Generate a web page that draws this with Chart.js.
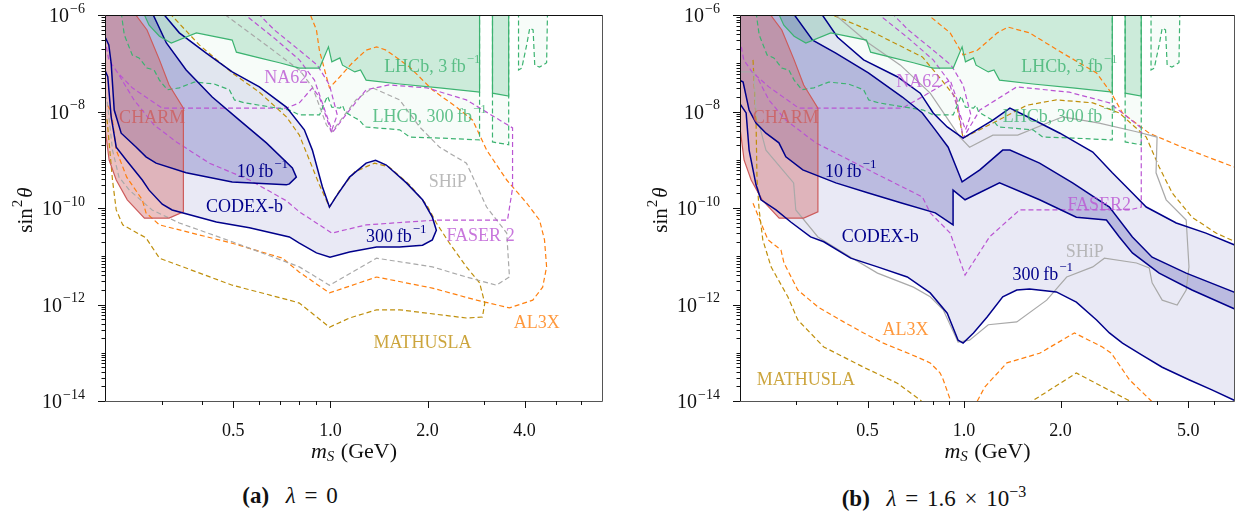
<!DOCTYPE html>
<html>
<head>
<meta charset="utf-8">
<script src="https://cdn.jsdelivr.net/npm/chart.js@4.4.1/dist/chart.umd.min.js"></script>
<style>
  html, body { margin: 0; padding: 0; background: #fff; }
  #page { position: relative; width: 1236px; height: 523px; overflow: hidden; background: #fff; }
  canvas { position: absolute; top: 0; }
  #cvA { left: 0; }
  #cvB { left: 618px; }
  .cap { position: absolute; top: 483px; font-family: "Liberation Serif", "DejaVu Serif", serif; font-size: 23px; color: #111;
         white-space: nowrap; transform: translateX(-50%); word-spacing: 3px; }
  .cap b { margin-right: 8px; }
  .cap sup { font-size: 16px; }
</style>
</head>
<body>
<div id="page">
  <canvas id="cvA" width="618" height="470"></canvas>
  <canvas id="cvB" width="618" height="470"></canvas>
  <div class="cap" style="left:290px"><b>(a)</b> <i>λ</i> = 0</div>
  <div class="cap" style="left:934px"><b>(b)</b> <i>λ</i> = 1.6 × 10<sup>−3</sup></div>
</div>
<script>
"use strict";

// -----------------------------
// data: [m_S in GeV, log10(sin^2 theta)]
// -----------------------------

// same in both panels
const lhcb3 = [[0.263,-5.95],[0.274,-6.21],[0.295,-6.44],[0.321,-6.58],[0.384,-6.37],[0.496,-6.52],[0.511,-6.77],[0.602,-6.89],[0.695,-6.99],[0.801,-7.10],[0.925,-7.10],[0.986,-6.66],[1.01,-6.97],[1.07,-6.89],[1.09,-7.04],[1.19,-7.18],[1.24,-7.14],[1.29,-7.35],[1.64,-7.43],[2.18,-7.51],[2.90,-7.60],[2.90,-5.95]];
const lhcb3b = [[3.18,-5.95],[3.18,-7.62],[3.57,-7.68],[3.57,-5.95]];
const lhcb300 = [[0.2245,-5.95],[0.2295,-6.41],[0.243,-6.83],[0.255,-6.89],[0.270,-7.10],[0.284,-7.14],[0.295,-7.35],[0.312,-7.55],[0.340,-7.51],[0.378,-7.39],[0.436,-7.43],[0.486,-7.55],[0.504,-7.76],[0.541,-7.82],[0.602,-7.87],[0.746,-7.97],[0.801,-8.07],[0.925,-8.07],[0.979,-7.68],[1.01,-7.91],[1.07,-7.93],[1.09,-7.87],[1.11,-8.01],[1.19,-8.13],[1.23,-8.18],[1.28,-8.32],[1.64,-8.38],[1.76,-8.53],[2.18,-8.55],[2.90,-8.59],[2.90,-5.95]];
const lhcb300b = [[3.18,-5.95],[3.18,-8.63],[3.57,-8.69],[3.57,-5.95]];
const lhcb300c = [[3.83,-5.95],[3.83,-7.14],[3.92,-7.10],[4.06,-6.62],[4.15,-6.27],[4.25,-6.31],[4.30,-7.04],[4.45,-7.08],[4.68,-6.99],[4.71,-5.95]];
const charm = [[0.19,-5.95],[0.246,-5.95],[0.270,-6.31],[0.295,-6.93],[0.316,-7.45],[0.350,-7.93],[0.350,-10.08],[0.316,-10.21],[0.265,-10.21],[0.2345,-9.83],[0.2167,-9.42],[0.206,-9.01],[0.2004,-8.38],[0.19,-8.13]];
const na62 = [[0.533,-5.95],[0.670,-6.48],[0.801,-6.93],[0.892,-7.35],[0.979,-8.13],[1.01,-8.38],[1.05,-8.07],[0.993,-7.45],[0.911,-7.04],[0.801,-6.73],[0.670,-6.31],[0.593,-5.95]];

// panel (a), lambda = 0
const codexA10 = [[0.19,-5.95],[0.280,-5.95],[0.310,-6.58],[0.357,-7.14],[0.430,-7.70],[0.522,-8.18],[0.633,-8.65],[0.762,-9.17],[0.784,-9.36],[0.746,-9.50],[0.730,-9.52],[0.496,-9.46],[0.357,-9.27],[0.288,-9.07],[0.268,-8.94],[0.250,-8.74],[0.2245,-8.45],[0.2136,-7.97],[0.209,-7.00],[0.2055,-6.62],[0.201,-6.48],[0.19,-6.48]];
const codexA300 = [[0.19,-5.95],[0.301,-5.95],[0.340,-6.37],[0.412,-6.79],[0.496,-7.18],[0.602,-7.49],[0.730,-7.91],[0.830,-8.38],[0.879,-8.80],[0.944,-9.56],[0.993,-9.98],[1.04,-9.77],[1.146,-9.36],[1.29,-9.07],[1.38,-9.01],[1.49,-9.11],[1.72,-9.48],[1.93,-9.83],[2.07,-10.19],[2.13,-10.46],[2.07,-10.66],[1.93,-10.77],[1.64,-10.81],[1.39,-10.81],[1.146,-10.91],[0.997,-11.02],[0.905,-10.93],[0.801,-10.73],[0.746,-10.60],[0.561,-10.41],[0.443,-10.29],[0.323,-10.04],[0.301,-9.92],[0.274,-9.63],[0.261,-9.42],[0.233,-9.01],[0.2167,-8.74],[0.209,-8.11],[0.204,-7.28],[0.201,-7.18],[0.19,-7.18]];
const faserA = [[0.19,-6.40],[0.2,-6.52],[0.2055,-6.93],[0.218,-7.18],[0.243,-7.51],[0.301,-7.93],[0.730,-7.93],[0.801,-7.82],[0.879,-7.51],[0.924,-7.70],[1.01,-8.45],[1.146,-7.97],[1.29,-7.55],[1.52,-7.45],[1.99,-7.51],[2.64,-7.76],[3.67,-8.34],[3.67,-9.59],[3.54,-10.25],[2.13,-10.25],[1.29,-10.35],[1.01,-10.52],[0.801,-10.08],[0.730,-9.85],[0.561,-9.42],[0.421,-9.07],[0.333,-8.63],[0.284,-8.28],[0.246,-7.76],[0.218,-7.18]];
const shipA = [[0.19,-5.95],[0.462,-5.95],[0.602,-6.52],[0.801,-7.14],[0.879,-7.49],[0.972,-8.28],[1.01,-8.42],[1.20,-7.76],[1.35,-7.51],[1.64,-7.76],[1.89,-8.32],[2.18,-8.74],[2.64,-9.07],[3.05,-9.98],[3.52,-10.52],[3.59,-11.43],[3.27,-11.60],[2.64,-11.43],[2.07,-11.22],[1.39,-11.04],[0.993,-11.60],[0.801,-11.22],[0.496,-10.70],[0.340,-10.31],[0.280,-10.04],[0.238,-9.63],[0.221,-9.36],[0.211,-8.80],[0.203,-7.76],[0.19,-7.35]];
const mathuslaA = [[0.19,-5.95],[0.316,-5.95],[0.392,-6.62],[0.496,-7.20],[0.602,-7.60],[0.730,-8.11],[0.801,-8.49],[0.861,-9.01],[0.924,-9.52],[0.993,-9.98],[1.07,-9.63],[1.19,-9.25],[1.37,-9.07],[1.52,-9.15],[1.76,-9.52],[1.99,-9.94],[2.13,-10.31],[2.34,-10.73],[2.64,-11.22],[2.90,-11.55],[3.01,-11.97],[2.96,-12.26],[2.64,-12.28],[1.64,-12.11],[1.39,-12.11],[1.146,-12.28],[0.993,-12.47],[0.801,-11.97],[0.746,-11.91],[0.496,-11.60],[0.295,-11.04],[0.268,-10.62],[0.243,-10.46],[0.227,-10.35],[0.2167,-10.04],[0.211,-9.42],[0.203,-8.18],[0.19,-7.66]];
const al3xA = [[0.19,-7.60],[0.2055,-7.91],[0.211,-8.18],[0.2167,-8.80],[0.2335,-9.36],[0.261,-9.83],[0.268,-10.10],[0.295,-10.35],[0.496,-10.73],[0.710,-11.04],[0.801,-11.33],[0.993,-11.76],[1.146,-11.62],[1.39,-11.43],[2.07,-11.66],[2.84,-11.91],[3.59,-12.07],[4.24,-11.91],[4.55,-11.64],[4.68,-11.22],[4.61,-10.66],[4.45,-10.25],[4.06,-9.90],[3.52,-9.42],[3.05,-8.80],[2.76,-8.18],[2.46,-7.91],[2.07,-7.55],[1.76,-7.08],[1.49,-6.73],[1.39,-6.66],[1.29,-6.73],[1.17,-6.99],[1.07,-7.28],[0.993,-7.51],[0.972,-7.28],[0.924,-6.73],[0.905,-6.31],[0.861,-5.95]];

// panel (b), lambda = 1.6e-3
const codexB10 = [[0.19,-5.95],[0.292,-5.95],[0.337,-6.52],[0.398,-6.79],[0.503,-7.20],[0.642,-7.70],[0.741,-8.03],[0.813,-8.38],[0.892,-8.74],[0.986,-9.46],[1.12,-9.21],[1.32,-8.80],[1.39,-8.80],[1.72,-9.07],[2.18,-9.48],[2.84,-9.98],[3.35,-10.60],[3.86,-11.02],[4.93,-11.35],[7.3,-11.80],[7.3,-12.15],[5.14,-11.70],[4.06,-11.35],[3.35,-10.93],[3.05,-10.60],[2.78,-10.25],[2.24,-10.19],[1.72,-9.83],[1.29,-9.48],[1.007,-9.83],[0.924,-9.63],[0.924,-10.35],[0.813,-10.10],[0.642,-9.90],[0.503,-9.69],[0.398,-9.48],[0.314,-9.21],[0.278,-8.94],[0.2645,-8.65],[0.241,-8.45],[0.2244,-8.24],[0.2135,-7.97],[0.2045,-7.39],[0.19,-7.28]];
const codexB300 = [[0.19,-5.95],[0.357,-5.95],[0.403,-6.46],[0.486,-6.93],[0.619,-7.28],[0.730,-7.62],[0.801,-8.03],[0.886,-8.32],[0.993,-8.55],[1.23,-8.18],[1.39,-7.93],[1.60,-8.13],[1.99,-8.45],[2.52,-8.84],[2.90,-9.27],[3.35,-9.69],[3.70,-9.98],[4.59,-10.31],[5.68,-10.52],[7.3,-10.82],[7.3,-14.05],[5.93,-13.77],[5.03,-13.56],[4.15,-13.30],[3.59,-13.05],[3.12,-12.80],[2.84,-12.59],[2.59,-12.32],[2.24,-11.95],[1.94,-11.74],[1.60,-11.68],[1.46,-11.70],[1.32,-11.84],[1.18,-12.26],[1.07,-12.59],[0.993,-12.80],[0.958,-12.74],[0.886,-12.18],[0.784,-11.76],[0.665,-11.43],[0.537,-11.22],[0.443,-11.04],[0.365,-10.70],[0.332,-10.60],[0.288,-10.29],[0.259,-10.04],[0.2325,-9.83],[0.2244,-9.52],[0.2135,-8.80],[0.209,-8.03],[0.19,-7.62]];
const faserB = [[0.19,-6.40],[0.2,-6.52],[0.2055,-6.93],[0.218,-7.18],[0.246,-7.49],[0.305,-7.93],[0.642,-7.93],[0.757,-7.66],[0.905,-7.35],[0.951,-7.76],[0.993,-8.55],[1.12,-7.97],[1.46,-7.49],[2.13,-7.60],[2.84,-7.82],[3.57,-8.34],[3.57,-9.98],[3.28,-10.04],[1.49,-10.04],[1.20,-10.60],[1.007,-11.39],[0.905,-10.52],[0.784,-10.10],[0.741,-9.77],[0.503,-9.21],[0.345,-8.65],[0.278,-8.18],[0.246,-7.76],[0.2244,-7.24]];
const shipB = [[0.19,-5.95],[0.389,-5.95],[0.503,-6.58],[0.633,-7.04],[0.784,-7.62],[0.971,-8.53],[1.04,-8.74],[1.23,-8.49],[1.47,-8.49],[2.03,-8.11],[2.64,-8.24],[3.45,-8.42],[4.00,-8.53],[3.97,-9.27],[4.27,-9.83],[4.93,-10.25],[5.03,-11.22],[4.93,-11.70],[4.62,-12.01],[4.15,-11.91],[3.86,-11.55],[3.78,-11.24],[3.45,-11.14],[2.74,-11.04],[2.52,-11.22],[2.09,-11.43],[1.81,-11.91],[1.46,-12.36],[1.19,-12.42],[1.04,-12.74],[0.958,-12.78],[0.861,-12.11],[0.784,-11.84],[0.695,-11.64],[0.537,-11.35],[0.443,-11.02],[0.350,-10.60],[0.2986,-10.04],[0.294,-9.48],[0.241,-8.80],[0.2244,-8.03],[0.221,-7.18],[0.19,-7.18]];
const mathuslaBtop = [[0.373,-5.95],[0.503,-6.31],[0.741,-6.87],[0.842,-7.31],[0.938,-7.70],[0.993,-8.55],[1.23,-8.24],[1.57,-7.87],[1.94,-7.76],[2.52,-7.82],[3.05,-8.03],[3.70,-8.53],[4.06,-9.15],[4.46,-9.69],[5.14,-10.19],[6.11,-10.52],[7.3,-10.75]];
const mathuslaBlow = [[0.2196,-6.93],[0.2244,-8.18],[0.226,-9.42],[0.2295,-10.04],[0.2356,-10.66],[0.250,-11.22],[0.282,-11.84],[0.303,-12.32],[0.365,-12.88],[0.486,-13.30],[0.619,-13.63],[0.730,-13.98],[0.751,-14.06]];
const mathuslaBbump = [[1.58,-14.06],[2.24,-13.42],[3.42,-14.06]];
const al3xBtop = [[0.757,-5.95],[0.905,-6.37],[0.993,-6.83],[1.10,-6.73],[1.27,-6.37],[1.37,-6.25],[1.60,-6.37],[2.03,-6.79],[2.59,-7.20],[2.88,-7.62],[3.12,-8.03],[3.78,-8.45],[4.79,-8.74],[6.11,-9.01],[7.3,-9.20]];
const al3xBlow = [[0.2196,-9.90],[0.2375,-10.46],[0.2446,-10.66],[0.2684,-10.87],[0.2743,-11.14],[0.303,-11.70],[0.350,-12.05],[0.421,-12.36],[0.486,-12.59],[0.560,-12.80],[0.715,-13.09],[0.784,-13.21],[0.842,-13.42],[0.861,-13.56],[0.925,-14.15]];
const al3xBbump = [[1.07,-14.15],[1.16,-13.71],[1.36,-13.21],[1.72,-13.01],[2.21,-12.59],[2.70,-12.88],[2.88,-13.01],[3.28,-13.56],[4.05,-14.15]];

// tick values
const yMajorExp = [-6, -8, -10, -12, -14];
const yMinorMant = [1, 2, 3, 4, 5, 6, 7, 8, 9];
const xMajorA = [0.5, 1, 2, 4];
const xMinorA = [0.3, 0.4, 0.6, 0.7, 0.8, 0.9, 3, 5, 6];
const xMajorB = [0.5, 1, 2, 5];
const xMinorB = [0.3, 0.4, 0.6, 0.7, 0.8, 0.9, 3, 4, 6];

// label text, superscript, m_S, log10(sin^2), colour key
const labelsA = [
  ["CHARM", "", 0.280, -8.13, "red"],
  ["NA62", "", 0.730, -7.31, "orchid"],
  ["LHCb, 3\u2009fb", "\u22121", 2.07, -7.08, "green"],
  ["LHCb, 300\u2009fb", "\u22121", 2.03, -8.11, "green"],
  ["10\u2009fb", "\u22121", 0.615, -9.25, "navy"],
  ["SHiP", "", 2.31, -9.46, "grey"],
  ["CODEX-b", "", 0.541, -9.98, "navy"],
  ["300\u2009fb", "\u22121", 1.60, -10.60, "navy"],
  ["FASER 2", "", 2.92, -10.58, "orchid"],
  ["AL3X", "", 4.36, -12.38, "orange"],
  ["MATHUSLA", "", 1.93, -12.80, "gold"],
];
const labelsB = [
  ["CHARM", "", 0.278, -8.13, "red"],
  ["NA62", "", 0.720, -7.39, "orchid"],
  ["LHCb, 3\u2009fb", "\u22121", 2.13, -7.08, "green"],
  ["LHCb, 300\u2009fb", "\u22121", 1.99, -8.11, "green"],
  ["10\u2009fb", "\u22121", 0.443, -9.25, "navy"],
  ["FASER2", "", 2.64, -9.94, "orchid"],
  ["CODEX-b", "", 0.548, -10.60, "navy"],
  ["SHiP", "", 2.38, -10.91, "grey"],
  ["300\u2009fb", "\u22121", 1.76, -11.39, "navy"],
  ["AL3X", "", 0.656, -12.53, "orange"],
  ["MATHUSLA", "", 0.321, -13.56, "gold"],
];

// -----------------------------
// colours
// -----------------------------
const C = {
  green: "#3cb371", red: "#cd5c5c", navy: "#00008b", orchid: "#ba55d3",
  grey: "#a9a9a9", gold: "#bf8f0c", orange: "#ff7f0e",
};
const SERIF = '"Liberation Serif", "DejaVu Serif", serif';
const DASH = [5, 3];

const pts = (arr) => arr.map(([m, lg]) => ({ x: m, y: Math.pow(10, lg) }));
const closed = (arr) => arr.concat([arr[0]]);

function line(arr, color, extra) {
  return Object.assign(
    { data: pts(arr), showLine: true, borderColor: color, borderWidth: 1.2, pointRadius: 0, fill: false, tension: 0 },
    extra || {}
  );
}

// text with an optional superscript, anchored by its centre / right edge
function drawSup(ctx, base, sup, x, y, size, align) {
  ctx.font = size + "px " + SERIF;
  const w1 = ctx.measureText(base).width;
  const ss = Math.round(size * 0.72);
  ctx.font = ss + "px " + SERIF;
  const w2 = sup ? ctx.measureText(sup).width + 1 : 0;
  let x0 = x;
  if (align === "center") x0 = x - (w1 + w2) / 2;
  if (align === "right") x0 = x - w1 - w2;
  ctx.textAlign = "left";
  ctx.textBaseline = "middle";
  ctx.font = size + "px " + SERIF;
  ctx.fillText(base, x0, y);
  if (sup) {
    ctx.font = ss + "px " + SERIF;
    ctx.fillText(sup, x0 + w1 + 1, y - size * 0.4);
  }
}

// -----------------------------
// plugin: polygon fills under the dataset lines
// -----------------------------
const shadePlugin = {
  id: "shade",
  beforeDatasetsDraw(chart) {
    const { ctx, chartArea: a } = chart;
    ctx.save();
    ctx.beginPath();
    ctx.rect(a.left, a.top, a.right - a.left, a.bottom - a.top);
    ctx.clip();
    chart.data.datasets.forEach((ds, i) => {
      if (!ds.shade) return;
      const el = chart.getDatasetMeta(i).data;
      ctx.beginPath();
      el.forEach((p, j) => (j ? ctx.lineTo(p.x, p.y) : ctx.moveTo(p.x, p.y)));
      ctx.closePath();
      ctx.fillStyle = ds.shade;
      ctx.fill();
    });
    ctx.restore();
  },
};

// -----------------------------
// plugin: labels, frame, ticks, axis titles
// -----------------------------
const decoPlugin = {
  id: "deco",
  afterDatasetsDraw(chart, args, opts) {
    const { ctx, scales: { x, y } } = chart;
    ctx.save();
    opts.labels.forEach(([t, s, m, lg, key]) => {
      ctx.fillStyle = C[key];
      ctx.globalAlpha = key === "navy" ? 1 : 0.8;
      drawSup(ctx, t, s, x.getPixelForValue(m), y.getPixelForValue(Math.pow(10, lg)), 18, "center");
    });
    ctx.restore();
  },
  afterDraw(chart, args, opts) {
    const { ctx, chartArea: a, scales: { x, y } } = chart;
    ctx.save();
    ctx.lineWidth = 1;

    // frame
    ctx.strokeStyle = "#111";
    ctx.beginPath();
    ctx.moveTo(a.left + 0.5, a.bottom + 0.5);
    ctx.lineTo(a.left + 0.5, a.top + 0.5);
    ctx.lineTo(a.right, a.top + 0.5);
    ctx.stroke();
    ctx.strokeStyle = "#555";
    ctx.beginPath();
    ctx.moveTo(a.left, a.bottom + 0.5);
    ctx.lineTo(a.right - 0.5, a.bottom + 0.5);
    ctx.lineTo(a.right - 0.5, a.top);
    ctx.stroke();

    // ticks
    ctx.strokeStyle = "#111";
    ctx.beginPath();
    const xt = (v, len) => {
      const px = Math.round(x.getPixelForValue(v)) + 0.5;
      ctx.moveTo(px, a.bottom);
      ctx.lineTo(px, a.bottom + len);
    };
    const yt = (v, len) => {
      const py = Math.round(y.getPixelForValue(v)) + 0.5;
      ctx.moveTo(a.left, py);
      ctx.lineTo(a.left - len, py);
    };
    opts.xMajor.forEach((v) => xt(v, 7));
    opts.xMinor.forEach((v) => xt(v, 4));
    yMajorExp.forEach((e) => yt(Math.pow(10, e), 7));
    for (let e = -14; e < -6; e++) {
      yMinorMant.forEach((m) => {
        if (m === 1 && e % 2 === 0) return;
        yt(m * Math.pow(10, e), 3.5);
      });
    }
    ctx.stroke();

    // y tick labels
    ctx.fillStyle = "#111";
    yMajorExp.forEach((e) => {
      drawSup(ctx, "10", "\u2212" + -e, a.left - 20, y.getPixelForValue(Math.pow(10, e)) + 2, 20, "right");
    });

    // y title: sin^2 theta
    ctx.save();
    ctx.translate(a.left - 79, (a.top + a.bottom) / 2 + 2);
    ctx.rotate(-Math.PI / 2);
    ctx.textBaseline = "middle";
    ctx.textAlign = "left";
    ctx.font = "21px " + SERIF;
    const w1 = ctx.measureText("sin").width;
    ctx.font = "15px " + SERIF;
    const w2 = ctx.measureText("2").width + 3;
    ctx.font = "italic 21px " + SERIF;
    const w3 = ctx.measureText("\u03b8").width;
    let x0 = -(w1 + w2 + w3) / 2;
    ctx.font = "21px " + SERIF;
    ctx.fillText("sin", x0, 0);
    ctx.font = "15px " + SERIF;
    ctx.fillText("2", x0 + w1 + 1, -8);
    ctx.font = "italic 21px " + SERIF;
    ctx.fillText("\u03b8", x0 + w1 + w2, 0);
    ctx.restore();

    // x title: m_S (GeV)
    const cx = (a.left + a.right) / 2;
    const ty = a.bottom + 51;
    ctx.textBaseline = "middle";
    ctx.textAlign = "left";
    ctx.font = "italic 22px " + SERIF;
    const mW = ctx.measureText("m").width;
    ctx.font = "italic 15px " + SERIF;
    const sW = ctx.measureText("S").width + 1;
    ctx.font = "22px " + SERIF;
    const gW = ctx.measureText(" (GeV)").width;
    let xs = cx - (mW + sW + gW) / 2;
    ctx.font = "italic 22px " + SERIF;
    ctx.fillText("m", xs, ty);
    ctx.font = "italic 15px " + SERIF;
    ctx.fillText("S", xs + mW, ty + 5);
    ctx.font = "22px " + SERIF;
    ctx.fillText(" (GeV)", xs + mW + sW, ty);

    ctx.restore();
  },
};

// -----------------------------
// chart factory
// -----------------------------
function makePanel(id, sets, cfg) {
  const ctx = document.getElementById(id).getContext("2d");
  return new Chart(ctx, {
    type: "scatter",
    data: { datasets: sets },
    plugins: [shadePlugin, decoPlugin],
    options: {
      responsive: false,
      animation: false,
      events: [],
      layout: { padding: { top: 15, right: cfg.padRight, left: 0, bottom: 0 } },
      plugins: {
        legend: { display: false },
        tooltip: { enabled: false },
        deco: { labels: cfg.labels, xMajor: cfg.xMajor, xMinor: cfg.xMinor },
      },
      scales: {
        x: {
          type: "logarithmic",
          min: 0.2,
          max: 7,
          grid: { display: false, drawTicks: false },
          border: { display: false },
          afterFit: (s) => { s.height = 69; },
          afterBuildTicks: (s) => { s.ticks = cfg.xMajor.map((v) => ({ value: v })); },
          ticks: {
            autoSkip: false,
            maxRotation: 0,
            padding: 19,
            color: "#111",
            font: { family: SERIF, size: 18 },
            callback: (v) => Number(v).toFixed(1),
          },
        },
        y: {
          type: "logarithmic",
          min: 1e-14,
          max: 1e-6,
          grid: { display: false, drawTicks: false },
          border: { display: false },
          ticks: { display: false },
          afterFit: (s) => { s.width = cfg.yWidth; },
        },
      },
    },
  });
}

function commonFills(codex300, codex10) {
  return [
    line(closed(lhcb300), C.green, { borderWidth: 0, showLine: false, shade: "rgba(60,179,113,0.04)" }),
    line(closed(lhcb300b), C.green, { borderWidth: 0, showLine: false, shade: "rgba(60,179,113,0.04)" }),
    line(closed(lhcb300c), C.green, { borderWidth: 0, showLine: false, shade: "rgba(60,179,113,0.04)" }),
    line(closed(lhcb3), C.green, { shade: "rgba(60,179,113,0.23)" }),
    line(closed(lhcb3b), C.green, { shade: "rgba(60,179,113,0.23)" }),
    line(closed(codex300), C.navy, { borderWidth: 1.5, shade: "rgba(0,0,139,0.085)" }),
    line(closed(codex10), C.navy, { borderWidth: 1.5, shade: "rgba(0,0,139,0.2)" }),
    line(closed(charm), C.red, { shade: "rgba(205,92,92,0.38)" }),
    line(lhcb300, C.green, { borderDash: DASH }),
    line(lhcb300b, C.green, { borderDash: DASH }),
    line(lhcb300c, C.green, { borderDash: DASH }),
    line(na62, C.orchid, { borderDash: DASH }),
  ];
}

const setsA = commonFills(codexA300, codexA10).concat([
  line(faserA, C.orchid, { borderDash: DASH }),
  line(shipA, C.grey, { borderDash: DASH }),
  line(mathuslaA, C.gold, { borderDash: DASH }),
  line(al3xA, C.orange, { borderDash: DASH }),
]);

const setsB = commonFills(codexB300, codexB10).concat([
  line(faserB, C.orchid, { borderDash: DASH }),
  line(shipB, C.grey),
  line(mathuslaBtop, C.gold, { borderDash: DASH }),
  line(mathuslaBlow, C.gold, { borderDash: DASH }),
  line(mathuslaBbump, C.gold, { borderDash: DASH }),
  line(al3xBtop, C.orange, { borderDash: DASH }),
  line(al3xBlow, C.orange, { borderDash: DASH }),
  line(al3xBbump, C.orange, { borderDash: DASH }),
]);

makePanel("cvA", setsA, { padRight: 15, yWidth: 105, labels: labelsA, xMajor: xMajorA, xMinor: xMinorA });
makePanel("cvB", setsB, { padRight: 1, yWidth: 122, labels: labelsB, xMajor: xMajorB, xMinor: xMinorB });
</script>
</body>
</html>
